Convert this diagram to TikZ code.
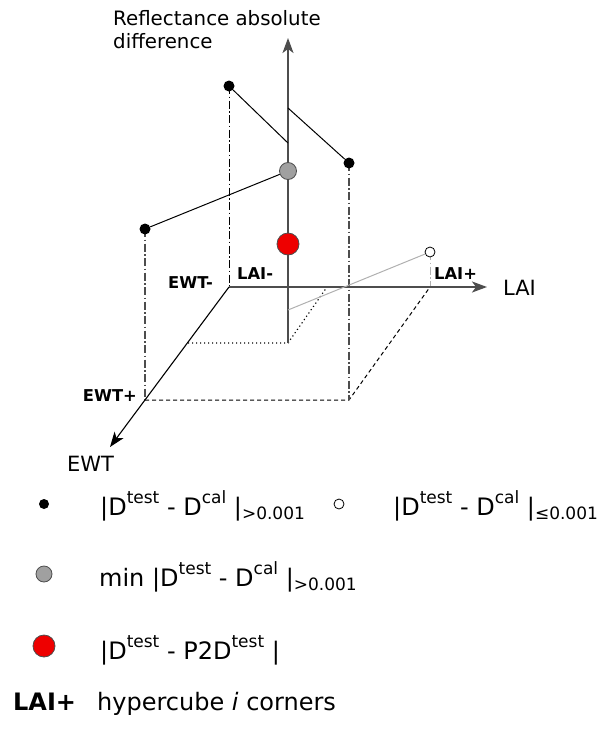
\documentclass[tikz,border=0pt]{standalone}
\usepackage{fontspec}
\setmainfont{DejaVu Sans}
\usetikzlibrary{arrows.meta}
\definecolor{axg}{HTML}{4D4D4D}
\definecolor{dotg}{HTML}{A0A0A0}
\definecolor{redd}{HTML}{EE0000}
\definecolor{lightg}{HTML}{B0B0B0}
\newcommand\sups[1]{\raisebox{0.46em}{\fontsize{17}{17}\selectfont #1}}
\newcommand\subs[1]{\raisebox{-0.18em}{\fontsize{17}{17}\selectfont #1}}
\tikzset{
  lbl/.style={inner sep=0pt, font=\fontsize{21}{25}\selectfont},
  ttl/.style={inner sep=0pt, font=\fontsize{19.8}{24}\selectfont},
  leg/.style={inner sep=0pt, font=\fontsize{24}{28}\selectfont},
  blbl/.style={inner sep=0pt, font=\fontsize{16.3}{19}\selectfont\bfseries},
  bdot/.style={circle, fill=black, inner sep=0pt, minimum size=11pt},
  wdot/.style={circle, draw=black, fill=white, line width=0.8pt, inner sep=0pt, minimum size=10pt},
  gdot/.style={circle, draw=axg, fill=dotg, line width=0.8pt, inner sep=0pt, minimum size=17pt},
  rdot/.style={circle, draw=axg, fill=redd, line width=0.8pt, inner sep=0pt, minimum size=22pt},
  axarrow/.style={-{Stealth[length=15pt,width=11pt,inset=4pt]}},
  dashdotline/.style={dash pattern=on 8pt off 2.5pt on 1.5pt off 2.5pt},
  floordash/.style={dash pattern=on 4pt off 3pt, line width=1pt},
  floordot/.style={dash pattern=on 1.2pt off 2.8pt, line width=1.1pt},
  conn/.style={line width=1pt, black},
}
\begin{document}
\begin{tikzpicture}[x=1pt,y=-1pt]
\useasboundingbox (0,0) rectangle (600,731);
% coordinates
\coordinate (O) at (229,287);
\coordinate (LAItip) at (487,287);
\coordinate (EWTtip) at (110,447);
\coordinate (Vbot) at (288,343);
\coordinate (Vtop) at (288,38);
\coordinate (Cmp) at (430,287);
\coordinate (Cpm) at (145,400);
\coordinate (Cpp) at (349,400);
\coordinate (PL) at (327,287);
\coordinate (PE) at (188,343);
\coordinate (VA) at (288,143);
\coordinate (VB) at (288,108);
\coordinate (VW) at (288,310);

% floor lines
\draw[floordash] (Cpm) -- (Cpp) -- (Cmp);
\draw[floordot] (PE) -- (Vbot) -- (PL);

% vertical drop lines
\draw[dashdotline, line width=0.9pt, black] (229,86) -- (O);
\draw[dashdotline, line width=1.4pt, axg] (145,229) -- (Cpm);
\draw[dashdotline, line width=1.4pt, axg] (349,163) -- (Cpp);
\draw[dashdotline, line width=1pt, lightg] (430,252) -- (Cmp);

% axes
\draw[axarrow, line width=1.8pt, axg] (O) -- (LAItip);
\draw[axarrow, line width=1.1pt, black] (O) -- (EWTtip);
\draw[axarrow, line width=1.4pt, axg] (Vbot) -- (Vtop);

% points
\node[bdot] (A) at (229,86) {};
\node[bdot] (B) at (349,163) {};
\node[bdot] (C) at (145,229) {};
\node[wdot] (W) at (430,252) {};
\node[gdot] (G) at (288,171) {};
\node[rdot] (R) at (288,244) {};

% connections
\draw[conn] (A) -- (VA);
\draw[conn] (VB) -- (B);
\draw[conn] (C) -- (G);
\draw[line width=1pt, lightg] (W) -- (VW);

% axis labels
\node[ttl, anchor=base west] (ttl1) at (113,25) {Reflectance absolute};
\node[ttl, anchor=base west] (ttl2) at (113,48) {difference};
\node[lbl, anchor=base west] (laiL) at (503,295) {LAI};
\node[lbl, anchor=base west] (ewtL) at (67,471) {EWT};
\node[blbl, anchor=base east] (ewtm) at (213,288) {EWT-};
\node[blbl, anchor=base west] (laim) at (237,279) {LAI-};
\node[blbl, anchor=base west] (laip) at (434,279) {LAI+};
\node[blbl, anchor=base east] (ewtp) at (137,401) {EWT+};

% legend
\node[bdot, minimum size=10pt] (l1) at (44,504) {};
\node[leg, anchor=base west] (t1) at (100,515) {|D\sups{test} - D\sups{cal} |\subs{>0.001}};
\node[wdot, minimum size=10pt] (l2) at (339,504) {};
\node[leg, anchor=base west] (t2) at (393,515) {|D\sups{test} - D\sups{cal} |\subs{≤0.001}};
\node[gdot, minimum size=16pt] (l3) at (44,574) {};
\node[leg, anchor=base west] (t3) at (99,586) {min |D\sups{test} - D\sups{cal} |\subs{>0.001}};
\node[rdot] (l4) at (44,646) {};
\node[leg, anchor=base west] (t4) at (100,659) {|D\sups{test} - P2D\sups{test} |};
\node[leg, anchor=base west, font=\fontsize{24}{28}\selectfont\bfseries] (l5) at (13,710) {LAI+};
\node[leg, anchor=base west] (t5) at (97,710) {hypercube \textit{i} corners};
\end{tikzpicture}
\end{document}
